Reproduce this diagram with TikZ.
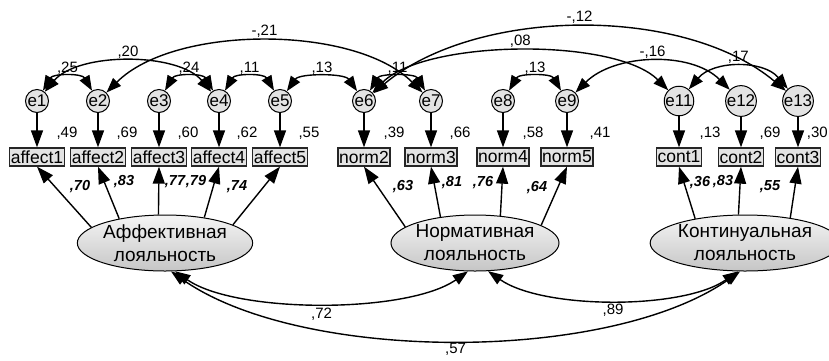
\documentclass[tikz,border=0pt]{standalone}
\usepackage{fontspec}
\setmainfont{Liberation Sans}
\usetikzlibrary{arrows.meta,shapes.geometric}

\tikzset{
  evar/.style={circle, draw=black, line width=1pt, fill=gray!22, minimum size=23pt,
    inner sep=0pt, font=\fontsize{17}{17}\selectfont},
  obs/.style={rectangle, draw=black!85, line width=1.3pt, fill=gray!22, inner sep=1.3pt,
    minimum height=18pt, font=\fontsize{17.5}{17.5}\selectfont},
  lat/.style={ellipse, draw=black, line width=1pt, top color=gray!8, bottom color=gray!45,
    align=center, inner sep=0pt, font=\fontsize{19}{23}\selectfont},
  reg/.style={line width=1.4pt, -{Triangle[length=17pt,width=12pt]}},
  cov/.style={line width=1.4pt, {Triangle[length=15pt,width=11pt]}-{Triangle[length=15pt,width=11pt]}},
  lbl/.style={inner sep=1pt, font=\fontsize{15}{15}\selectfont},
  ld/.style={inner sep=1pt, font=\fontsize{14.5}{15}\selectfont\bfseries\itshape},
}

\begin{document}
\begin{tikzpicture}[x=1pt,y=1pt]
\useasboundingbox (0,0) rectangle (829,-360);

% error terms
\foreach \n/\x in {1/37,2/98,3/159,4/219,5/280,6/364,7/431,8/503,9/567,11/679,12/741,13/798}
  \node[evar] (e\n) at (\x,-101) {e\n};

% observed indicators
\node[obs] (a1) at (37,-157) {affect1};
\node[obs] (a2) at (98,-157) {affect2};
\node[obs] (a3) at (159,-157) {affect3};
\node[obs] (a4) at (219,-157) {affect4};
\node[obs] (a5) at (280,-157) {affect5};
\node[obs] (n2) at (364,-157) {norm2};
\node[obs] (n3) at (431,-157) {norm3};
\node[obs] (n4) at (503,-157) {norm4};
\node[obs] (n5) at (567,-157) {norm5};
\node[obs] (c1) at (679,-157) {cont1};
\node[obs] (c2) at (741,-157) {cont2};
\node[obs] (c3) at (798,-157) {cont3};

% latent factors
\node[lat, minimum width=170pt, minimum height=56pt] (aff) at (165,-243) {Аффективная\\лояльность};
\node[lat, minimum width=156pt, minimum height=56pt] (nrm) at (475,-243) {Нормативная\\лояльность};
\node[lat, minimum width=156pt, minimum height=56pt] (cnt) at (745,-243) {Континуальная\\лояльность};

% error -> indicator
\foreach \e/\o in {1/a1,2/a2,3/a3,4/a4,5/a5,6/n2,7/n3,8/n4,9/n5,11/c1,12/c2,13/c3}
  \draw[reg] (e\e) -- (\o);

% squared multiple correlations
\node[lbl] at (67,-133) {,49};
\node[lbl] at (127,-133) {,69};
\node[lbl] at (188,-133) {,60};
\node[lbl] at (247,-133) {,62};
\node[lbl] at (309,-133) {,55};
\node[lbl] at (394,-133) {,39};
\node[lbl] at (460,-133) {,66};
\node[lbl] at (533,-133) {,58};
\node[lbl] at (600,-133) {,41};
\node[lbl] at (710,-133) {,13};
\node[lbl] at (770,-133) {,69};
\node[lbl, anchor=east] at (829,-133) {,30};

% factor loadings
\draw[reg] (aff.168) -- (a1.south);
\draw[reg] (aff.152) -- (a2.south);
\draw[reg] (aff.103) -- (a3.south);
\draw[reg] (aff.33) -- (a4.south);
\draw[reg] (aff.15) -- (a5.south);
\draw[reg] (nrm.167) -- (n2.south);
\draw[reg] (nrm.143) -- (n3.south);
\draw[reg] (nrm.47) -- (n4.south);
\draw[reg] (nrm.15) -- (n5.south);
\draw[reg] (cnt.154) -- (c1.south);
\draw[reg] (cnt.103) -- (c2.south);
\draw[reg] (cnt.29) -- (c3.south);

\node[ld] at (80,-187) {,70};
\node[ld] at (124,-182) {,83};
\node[ld] at (175,-182) {,77};
\node[ld] at (196,-182) {,79};
\node[ld] at (237,-187) {,74};
\node[ld] at (403,-187) {,63};
\node[ld] at (452,-183) {,81};
\node[ld] at (483,-183) {,76};
\node[ld] at (537,-188) {,64};
\node[ld] at (700,-183) {,36};
\node[ld] at (723,-182) {,83};
\node[ld] at (770,-187) {,55};

% error covariances
\draw[cov] (e1.60) .. controls +(60:20) and +(120:20) .. (e2.120) node[lbl, midway, above=2pt] {,25};
\draw[cov] (e1.50) .. controls +(50:52) and +(130:52) .. (e4.130) node[lbl, midway, above=2pt] {,20};
\draw[cov] (e2.45) .. controls +(45:96) and +(135:96) .. (e7.135) node[lbl, midway, above=2pt] {-,21};
\draw[cov] (e3.60) .. controls +(60:20) and +(120:20) .. (e4.120) node[lbl, midway, above=2pt] {,24};
\draw[cov] (e4.60) .. controls +(60:20) and +(120:20) .. (e5.120) node[lbl, midway, above=2pt] {,11};
\draw[cov] (e5.55) .. controls +(55:22) and +(125:22) .. (e6.125) node[lbl, midway, above=2pt] {,13};
\draw[cov] (e6.60) .. controls +(60:20) and +(120:20) .. (e7.120) node[lbl, midway, above=2pt] {,11};
\draw[cov] (e6.45) .. controls +(45:75) and +(135:75) .. (e11.135) node[lbl, midway, above=2pt] {,08};
\draw[cov] (e6.40) .. controls +(40:134) and +(140:134) .. (e13.140) node[lbl, midway, above=2pt] {-,12};
\draw[cov] (e8.60) .. controls +(60:20) and +(120:20) .. (e9.120) node[lbl, midway, above=2pt] {,13};
\draw[cov] (e9.45) .. controls +(45:55) and +(135:55) .. (e12.135) node[lbl, midway, above=2pt] {-,16};
\draw[cov] (e11.50) .. controls +(50:38) and +(130:38) .. (e13.130) node[lbl, midway, above=2pt] {,17};

% factor covariances
\draw[cov] (aff.-70) .. controls +(-35:74) and +(-145:74) .. (nrm.-104) node[lbl, midway, below=3pt] {,72};
\draw[cov] (nrm.-65) .. controls +(-35:67) and +(-145:67) .. (cnt.-104) node[lbl, midway, below=2pt] {,89};
\draw[cov] (aff.-78) .. controls +(-35:160) and +(-145:160) .. (cnt.-100) node[lbl, midway, below=1pt] {,57};
\end{tikzpicture}
\end{document}
